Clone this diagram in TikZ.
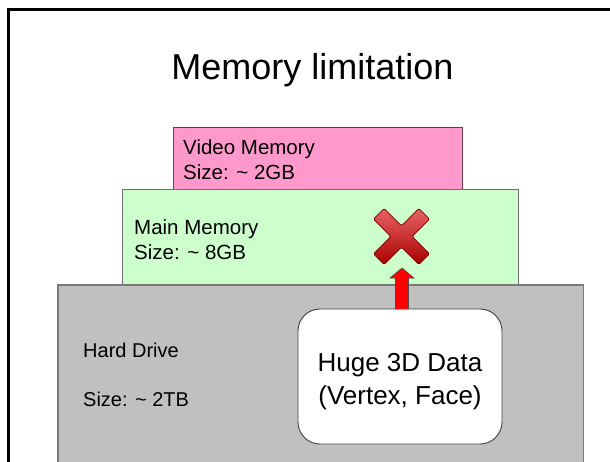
\documentclass[tikz,border=0pt]{standalone}
\usepackage{fontspec}
\setmainfont{Liberation Sans}
\usetikzlibrary{calc}
\definecolor{vidpink}{HTML}{FF99CC}
\definecolor{vidborder}{HTML}{6A3A50}
\definecolor{maingreen}{HTML}{CCFFCC}
\definecolor{mainborder}{HTML}{6E6E6E}
\definecolor{hdgray}{HTML}{C0C0C0}
\definecolor{hdborder}{HTML}{7A7A7A}
\definecolor{xlight}{HTML}{E86464}
\definecolor{xdark}{HTML}{A80000}
\definecolor{xedge}{HTML}{7A0000}
\begin{document}
\begin{tikzpicture}[x=1pt,y=-1pt,
  layerbox/.style={anchor=north west, inner sep=0pt, outer sep=0pt},
  lbl/.style={anchor=base west, inner sep=0pt, font=\fontsize{20.5}{25}\selectfont},
  hdlbl/.style={anchor=base west, inner sep=0pt, font=\fontsize{20}{24}\selectfont},
  datalbl/.style={anchor=base, inner sep=0pt, font=\fontsize{26}{31}\selectfont},
  redarrow/.style={fill=red, draw=black!70, line width=0.6pt, line join=miter},
  xmarkstyle/.style={draw=xedge, line width=0.7pt, top color=xlight, bottom color=xdark, rounded corners=1.5pt}
]
\useasboundingbox (0,0) rectangle (610,461);
\clip (0,0) rectangle (610,461);
% slide frame
\draw[line width=2.6pt] (8.5,9.5) rectangle (650,520);
% title
\node[anchor=base, inner sep=0pt, font=\fontsize{36}{43}\selectfont] (title) at (312.5,79) {Memory limitation};
% memory layers
\node[layerbox, fill=vidpink, draw=vidborder, line width=0.8pt, minimum width=288.5pt, minimum height=62pt] (video) at (173.5,127) {};
\node[layerbox, fill=maingreen, draw=mainborder, line width=0.8pt, minimum width=396pt, minimum height=96pt] (main) at (122.5,189) {};
\node[layerbox, fill=hdgray, draw=hdborder, line width=1.6pt, minimum width=525.5pt, minimum height=220pt] (hd) at (58,285) {};
% labels
\node[lbl] (vname) at (183,154) {Video Memory};
\node[lbl] (vsize) at (183,179) {Size: \textasciitilde{} 2GB};
\node[lbl] (mname) at (134,234) {Main Memory};
\node[lbl] (msize) at (134,259) {Size: \textasciitilde{} 8GB};
\node[hdlbl] (hname) at (83,357) {Hard Drive};
\node[hdlbl] (hsize) at (83,406) {Size: \textasciitilde{} 2TB};
% data box
\node[layerbox, fill=white, draw=black!75, line width=0.9pt, rounded corners=22pt, minimum width=204pt, minimum height=135pt] (data) at (298,309) {};
\node[datalbl] (dl1) at (400,371) {Huge 3D Data};
\node[datalbl] (dl2) at (400,404) {(Vertex, Face)};
% red arrow from data box up
\coordinate (ab) at ($(data.north)+(2,0)$);
\draw[redarrow] ($(ab)+(-6.5,0)$) -- ($(ab)+(-6.5,-31)$) -- ($(ab)+(-12,-31)$) -- ($(ab)+(0,-41)$)
  -- ($(ab)+(12,-31)$) -- ($(ab)+(6.5,-31)$) -- ($(ab)+(6.5,0)$);
% red X mark
\coordinate (xm) at (401.5,236.5);
\path[xmarkstyle] ($(xm)+(0,-10.6)$) -- ($(xm)+(17.4,-28)$) -- ($(xm)+(28,-17.4)$) -- ($(xm)+(10.6,0)$)
  -- ($(xm)+(28,17.4)$) -- ($(xm)+(17.4,28)$) -- ($(xm)+(0,10.6)$)
  -- ($(xm)+(-17.4,28)$) -- ($(xm)+(-28,17.4)$) -- ($(xm)+(-10.6,0)$)
  -- ($(xm)+(-28,-17.4)$) -- ($(xm)+(-17.4,-28)$) -- cycle;
\end{tikzpicture}
\end{document}
